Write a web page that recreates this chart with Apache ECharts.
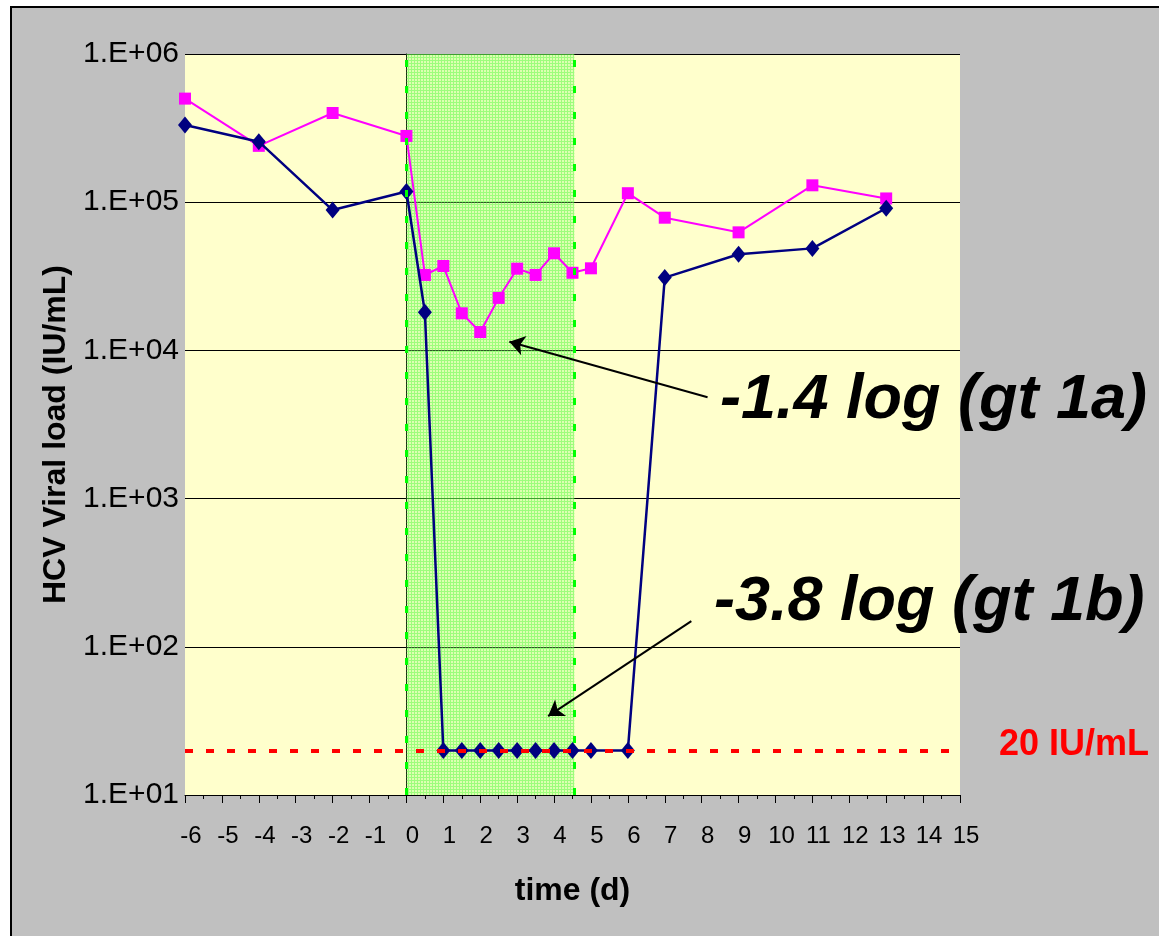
<!DOCTYPE html>
<html>
<head>
<meta charset="utf-8">
<script src="https://cdn.jsdelivr.net/npm/echarts@6/dist/echarts.min.js"></script>
<style>
  html, body { margin: 0; padding: 0; background: #ffffff; }
  #frame { position: absolute; left: 10px; top: 6px; width: 1170px; height: 950px; background: #C0C0C0; border: 2px solid #000; }
  #chart { position: absolute; left: 0; top: 0; width: 1159px; height: 936px; }
</style>
</head>
<body>
<div id="frame"></div>
<div id="chart"></div>
<script>
// ---- data ----
const gt1aX = [-6, -4, -2, 0, 0.5, 1, 1.5, 2, 2.5, 3, 3.5, 4, 4.5, 5, 6, 7, 9, 11, 13];
const gt1aY = [500000, 240000, 400000, 280000, 32300, 37100, 17800, 13300, 22600, 35600, 32300, 45200, 33400, 35800, 115000, 78600, 62600, 130000, 106000];
const gt1bX = [-6, -4, -2, 0, 0.5, 1, 1.5, 2, 2.5, 3, 3.5, 4, 4.5, 5, 6, 7, 9, 11, 13];
const gt1bY = [332000, 256000, 88500, 118000, 18100, 20, 20, 20, 20, 20, 20, 20, 20, 20, 20, 31000, 44500, 48800, 91000];
const yTickLabels = ['1.E+01', '1.E+02', '1.E+03', '1.E+04', '1.E+05', '1.E+06'];
const treatmentWindow = [0, 4.55];
const lloq = 20;
const lloqLabel = '20 IU/mL';
const note1a = '-1.4 log (gt 1a)';
const note1b = '-3.8 log (gt 1b)';
// arrow anchors in data coordinates [tail, head]
const arrow1a = [[8.16, 4830], [2.79, 11450]];
const arrow1b = [[7.72, 149], [3.84, 34.1]];

const FONT = '"Liberation Sans", Arial, Helvetica, sans-serif';

function zip(xs, ys) { return xs.map((x, i) => [x, ys[i]]); }

// stippled green pattern for the treatment window
const pat = document.createElement('canvas');
pat.width = 3; pat.height = 3;
const pctx = pat.getContext('2d');
pctx.fillStyle = 'rgba(150,255,120,0.32)';
pctx.fillRect(0, 0, 3, 3);
pctx.fillStyle = 'rgba(80,250,60,0.45)';
pctx.fillRect(0, 0, 3, 1);
pctx.fillRect(0, 1, 1, 2);

const chart = echarts.init(document.getElementById('chart'), null, { renderer: 'canvas' });

const option = {
  backgroundColor: 'transparent',
  animation: false,
  grid: {
    left: 185, top: 54, width: 775, height: 741,
    show: true, backgroundColor: '#FFFFCC', borderWidth: 0
  },
  xAxis: {
    type: 'value', min: -6, max: 15, interval: 1,
    name: 'time (d)', nameLocation: 'middle', nameGap: 80,
    nameTextStyle: { fontFamily: FONT, fontWeight: 'bold', fontSize: 32, color: '#000' },
    axisLine: { show: true, onZero: false, lineStyle: { color: '#000', width: 1 } },
    axisTick: { show: true, inside: false, length: 8, lineStyle: { color: '#000' } },
    minorTick: { show: true, splitNumber: 2, length: 4, lineStyle: { color: '#000' } },
    splitLine: { show: false },
    minorSplitLine: { show: false },
    axisLabel: {
      show: true, interval: 0, showMinLabel: true, showMaxLabel: true,
      fontFamily: FONT, fontSize: 24, color: '#000', margin: 29,
      padding: [0, 0, 0, 12]
    }
  },
  yAxis: {
    type: 'log', logBase: 10, min: 10, max: 1000000,
    name: 'HCV Viral load (IU/mL)', nameLocation: 'middle', nameGap: 111, nameRotate: 90,
    nameTextStyle: { fontFamily: FONT, fontWeight: 'bold', fontSize: 32, color: '#000', padding: [0, 20, 0, 0] },
    axisLine: { show: true, lineStyle: { color: '#000', width: 1 } },
    axisTick: { show: true, inside: false, length: 7, lineStyle: { color: '#000' } },
    splitLine: { show: true, lineStyle: { color: '#000', width: 1 } },
    axisLabel: {
      show: true, showMinLabel: true, showMaxLabel: true,
      fontFamily: FONT, fontSize: 30, color: '#000', margin: 6,
      padding: [8, 0, 0, 0],
      formatter: function (v) {
        const i = Math.round(Math.log10(v)) - 1;
        return yTickLabels[i] !== undefined ? yTickLabels[i] : '';
      }
    }
  },
  series: [
    {
      name: 'lloq', type: 'line', data: [], z: 1, silent: true,
      markLine: {
        silent: true, symbol: ['none', 'none'], label: { show: false },
        lineStyle: { color: '#FF0000', width: 4, type: [8, 13] },
        data: [{ yAxis: lloq }]
      }
    },
    {
      name: 'gt 1a', type: 'line', data: zip(gt1aX, gt1aY), z: 2,
      symbol: 'rect', symbolSize: 12,
      lineStyle: { color: '#FF00FF', width: 2 },
      itemStyle: { color: '#FF00FF' }
    },
    {
      name: 'gt 1b', type: 'line', data: zip(gt1bX, gt1bY), z: 3,
      symbol: 'diamond', symbolSize: [14, 17],
      lineStyle: { color: '#000080', width: 2.5 },
      itemStyle: { color: '#000080' }
    },
    {
      name: 'window', type: 'line', data: [], z: 10, silent: true,
      markArea: {
        silent: true,
        itemStyle: { color: { image: pat, repeat: 'repeat' } },
        data: [[{ xAxis: treatmentWindow[0] }, { xAxis: treatmentWindow[1] }]]
      }
    },
    {
      name: 'windowEdges', type: 'line', data: [], z: 11, silent: true,
      markLine: {
        silent: true, symbol: ['none', 'none'], label: { show: false },
        lineStyle: { color: '#00FF00', width: 3, type: [7, 19] },
        data: [{ xAxis: treatmentWindow[0] }, { xAxis: treatmentWindow[1] }]
      }
    },
    {
      name: 'arrows', type: 'line', data: [], z: 12, silent: true,
      markLine: {
        silent: true, symbol: ['none', 'arrow'], symbolSize: 15,
        label: { show: false },
        lineStyle: { color: '#000', width: 2, type: 'solid' },
        data: [
          [{ coord: arrow1a[0] }, { coord: arrow1a[1] }],
          [{ coord: arrow1b[0] }, { coord: arrow1b[1] }]
        ]
      }
    }
  ],
  graphic: [
    {
      type: 'text', x: 720, y: 401, z: 20,
      style: { text: note1a, font: 'italic bold 63px ' + FONT, fill: '#000', verticalAlign: 'middle', align: 'left' }
    },
    {
      type: 'text', x: 714, y: 603, z: 20,
      style: { text: note1b, font: 'italic bold 63px ' + FONT, fill: '#000', verticalAlign: 'middle', align: 'left' }
    },
    {
      type: 'text', x: 999, y: 745, z: 20,
      style: { text: lloqLabel, font: 'bold 36px ' + FONT, fill: '#FF0000', verticalAlign: 'middle', align: 'left' }
    }
  ]
};

chart.setOption(option);
</script>
</body>
</html>
